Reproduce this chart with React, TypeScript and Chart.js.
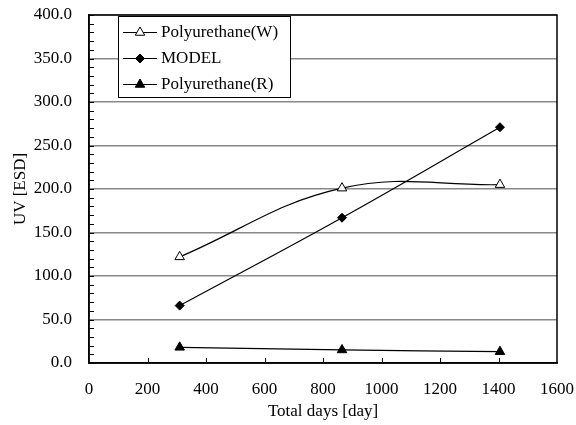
import React, { useEffect, useRef } from "react";
import { Chart, registerables } from "chart.js";
import { drawPoint } from "chart.js/helpers";

Chart.register(...registerables);

const days = [310, 865, 1405];
const polyW = [122, 201, 205];
const model = [66, 167, 271];
const polyR = [18, 15, 13];
const seriesNames = ["Polyurethane(W)", "MODEL", "Polyurethane(R)"];

const FONT = "'Liberation Serif', 'Times New Roman', serif";
const FS = 17;

const frame = {
  id: "frame",
  afterDraw(chart: any) {
    const { ctx, chartArea: a, scales } = chart;
    const x = scales.x;
    const y = scales.y;
    ctx.save();
    ctx.strokeStyle = "#000";
    ctx.lineWidth = 1;
    for (let v = 0; v <= 400; v += 10) {
      const py = Math.round(y.getPixelForValue(v)) + 0.5;
      ctx.beginPath();
      ctx.moveTo(a.left, py);
      ctx.lineTo(a.left + 5, py);
      ctx.stroke();
    }
    for (let v = 200; v < 1600; v += 200) {
      const px = Math.round(x.getPixelForValue(v)) + 0.5;
      ctx.beginPath();
      ctx.moveTo(px, a.bottom);
      ctx.lineTo(px, a.bottom - 5);
      ctx.stroke();
    }
    ctx.lineWidth = 1.5;
    ctx.strokeRect(a.left, a.top, a.right - a.left, a.bottom - a.top);

    // legend
    const bx = 118, by = 16, bw = 172, bh = 81;
    ctx.fillStyle = "#fff";
    ctx.fillRect(bx, by, bw, bh);
    ctx.lineWidth = 1;
    ctx.strokeStyle = "#000";
    ctx.strokeRect(bx + 0.5, by + 0.5, bw, bh);
    const rows = [32, 58, 84];
    chart.data.datasets.forEach((ds: any, i: number) => {
      const ry = rows[i] + 0.5;
      ctx.strokeStyle = "#000";
      ctx.lineWidth = 1;
      ctx.beginPath();
      ctx.moveTo(123, ry);
      ctx.lineTo(157, ry);
      ctx.stroke();
      ctx.fillStyle = ds.pointBackgroundColor;
      ctx.strokeStyle = ds.pointBorderColor;
      drawPoint(ctx, { pointStyle: ds.pointStyle, radius: ds.pointRadius, rotation: 0, borderWidth: 1 }, 140, ry);
      ctx.fillStyle = "#000";
      ctx.font = `${FS}px ${FONT}`;
      ctx.textAlign = "left";
      ctx.textBaseline = "middle";
      ctx.fillText(ds.label, 161, rows[i] + 1);
    });
    ctx.restore();
  },
};

const noPad = (s: any) => {
  s.paddingLeft = 0;
  s.paddingRight = 0;
  s.paddingTop = 0;
  s.paddingBottom = 0;
};

export default function App() {
  const ref = useRef<HTMLCanvasElement>(null);
  useEffect(() => {
    document.body.style.margin = "0";
    const mk = (vals: number[]) => days.map((d, i) => ({ x: d, y: vals[i] }));
    const base = { borderColor: "#000", borderWidth: 1.2, pointBorderColor: "#000", pointBorderWidth: 1, tension: 0.4 };
    const chart = new Chart(ref.current!, {
      type: "line",
      data: {
        datasets: [
          { ...base, label: seriesNames[0], data: mk(polyW), pointStyle: "triangle", pointRadius: 5.5, pointBackgroundColor: "#fff" },
          { ...base, label: seriesNames[1], data: mk(model), pointStyle: "rectRot", pointRadius: 4.5, pointBackgroundColor: "#000" },
          { ...base, label: seriesNames[2], data: mk(polyR), pointStyle: "triangle", pointRadius: 5.5, pointBackgroundColor: "#000" },
        ] as any,
      },
      options: {
        animation: false,
        responsive: false,
        layout: { padding: { left: 0, right: 19, top: 15, bottom: 0 } },
        plugins: { legend: { display: false }, tooltip: { enabled: false } },
        scales: {
          x: {
            type: "linear",
            min: 0,
            max: 1600,
            afterFit: (s: any) => { s.height = 62; noPad(s); },
            ticks: { stepSize: 200, color: "#000", font: { family: FONT, size: FS }, padding: 16, maxRotation: 0, callback: (v: any) => String(v) },
            grid: { drawOnChartArea: false, drawTicks: false },
            border: { display: true, color: "#000", width: 1.5 },
            title: { display: true, text: "Total days [day]", color: "#000", font: { family: FONT, size: FS }, padding: { top: 0, bottom: 3 } },
          },
          y: {
            min: 0,
            max: 400,
            afterFit: (s: any) => { s.width = 89; noPad(s); },
            ticks: { stepSize: 50, color: "#000", font: { family: FONT, size: FS }, padding: 17, callback: (v: any) => Number(v).toFixed(1) },
            grid: { color: "#888", lineWidth: 1.5, drawTicks: false },
            border: { display: true, color: "#000", width: 1.5 },
            title: { display: true, text: "UV [ESD]", color: "#000", font: { family: FONT, size: FS }, padding: { top: 10, bottom: 0 } },
          },
        },
      } as any,
      plugins: [frame],
    });
    return () => chart.destroy();
  }, []);
  return <canvas ref={ref} width={576} height={425} style={{ display: "block" }} />;
}
